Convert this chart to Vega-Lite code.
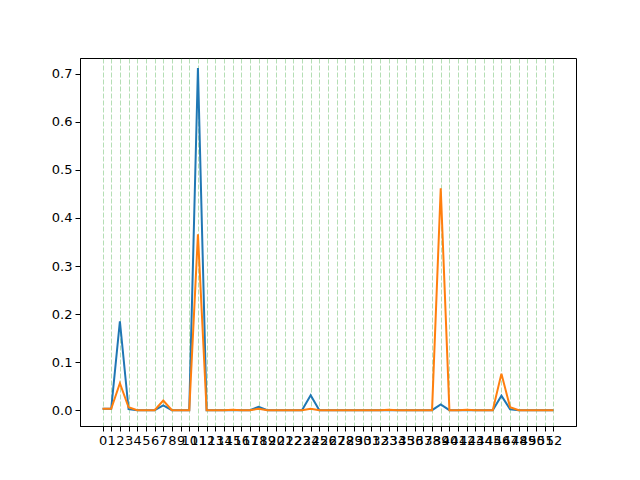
{
"$schema":"https://vega.github.io/schema/vega-lite/v6.json",
"width":496,"height":368,
"autosize":{"type":"none"},
"padding":{"left":80,"top":58,"right":64,"bottom":54},
"config":{"view":{"stroke":"black","strokeWidth":1},"font":"DejaVu Sans",
"axis":{"labelFont":"DejaVu Sans","labelFontSize":13,"labelColor":"black","tickColor":"black","domainColor":"black","tickSize":5,"labelPadding":3,"title":null}},
"data":{"values":[
{"x":0,"a":0.003,"b":0.003},{"x":1,"a":0.003,"b":0.003},{"x":2,"a":0.185,"b":0.056},{"x":3,"a":0.002,"b":0.006},{"x":4,"a":0,"b":0},{"x":5,"a":0,"b":0},{"x":6,"a":0,"b":0},{"x":7,"a":0.01,"b":0.02},{"x":8,"a":0,"b":0},{"x":9,"a":0,"b":0},{"x":10,"a":0,"b":0},{"x":11,"a":0.712,"b":0.366},{"x":12,"a":0,"b":0},{"x":13,"a":0,"b":0},{"x":14,"a":0,"b":0},{"x":15,"a":0,"b":0.001},{"x":16,"a":0,"b":0},{"x":17,"a":0,"b":0},{"x":18,"a":0.007,"b":0.003},{"x":19,"a":0,"b":0},{"x":20,"a":0,"b":0},{"x":21,"a":0,"b":0},{"x":22,"a":0,"b":0},{"x":23,"a":0,"b":0},{"x":24,"a":0.031,"b":0.003},{"x":25,"a":0,"b":0},{"x":26,"a":0,"b":0},{"x":27,"a":0,"b":0},{"x":28,"a":0,"b":0},{"x":29,"a":0,"b":0},{"x":30,"a":0,"b":0},{"x":31,"a":0,"b":0},{"x":32,"a":0,"b":0},{"x":33,"a":0,"b":0.001},{"x":34,"a":0,"b":0},{"x":35,"a":0,"b":0},{"x":36,"a":0,"b":0},{"x":37,"a":0,"b":0},{"x":38,"a":0,"b":0},{"x":39,"a":0.012,"b":0.462},{"x":40,"a":0,"b":0},{"x":41,"a":0,"b":0},{"x":42,"a":0,"b":0.001},{"x":43,"a":0,"b":0},{"x":44,"a":0,"b":0},{"x":45,"a":0,"b":0},{"x":46,"a":0.03,"b":0.076},{"x":47,"a":0.002,"b":0.006},{"x":48,"a":0,"b":0},{"x":49,"a":0,"b":0},{"x":50,"a":0,"b":0},{"x":51,"a":0,"b":0},{"x":52,"a":0,"b":0}
]},
"transform":[{"fold":["a","b"],"as":["series","value"]}],
"mark":{"type":"line","strokeWidth":2,"clip":true},
"encoding":{
"x":{"field":"x","type":"quantitative","scale":{"domain":[-2.6,54.6],"nice":false,"zero":false},
"axis":{"values":[0,1,2,3,4,5,6,7,8,9,10,11,12,13,14,15,16,17,18,19,20,21,22,23,24,25,26,27,28,29,30,31,32,33,34,35,36,37,38,39,40,41,42,43,44,45,46,47,48,49,50,51,52],"labelOverlap":false,"labelFlush":false,"grid":true,"gridColor":"#2ca02c","gridOpacity":0.35,"gridDash":[5,2],"gridWidth":1}},
"y":{"field":"value","type":"quantitative","scale":{"domain":[-0.033,0.733],"nice":false,"zero":false},
"axis":{"values":[0,0.1,0.2,0.3,0.4,0.5,0.6,0.7],"format":".1f","grid":false}},
"color":{"field":"series","type":"nominal","scale":{"domain":["a","b"],"range":["#1f77b4","#ff7f0e"]},"legend":null}
}
}
